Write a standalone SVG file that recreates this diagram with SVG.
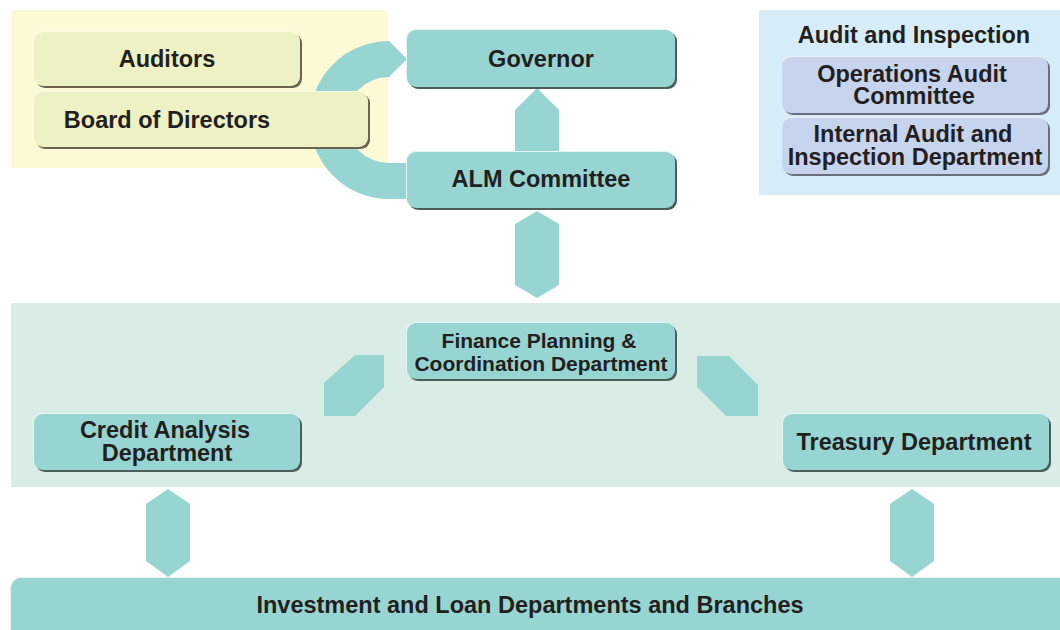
<svg xmlns="http://www.w3.org/2000/svg" width="1060" height="630" viewBox="0 0 1060 630">
<style>
.lbl{font-family:"Liberation Sans",Arial,sans-serif;font-weight:bold;font-size:23.5px;fill:#231f20;text-anchor:middle}
.sm{font-size:21px}
.conn{fill:#97d5d2}
.teal{fill:#97d5d2}
.yel{fill:#eef1c3}
.blu{fill:#c6d4ee}
.hl{fill:#e6f4f2}
.hly{fill:#fbfbe6}
.hlb{fill:#e8eef8}
.sh{fill:#4d5e59}
.shy{fill:#6a6450}
.shb{fill:#68707e}
</style>
<rect width="1060" height="630" fill="#ffffff"/>
<g id="panels">
<rect x="11" y="10" width="377" height="158" fill="#fefad6"/>
<rect x="759" y="10" width="301" height="185" fill="#d6edf9"/>
<rect x="11" y="303" width="1049" height="184" fill="#d9ede6"/>
</g>
<g id="connectors">
<path class="conn" d="M389 41 L407 59 L389 77 A43 43 0 0 0 389 163 L420 163 L420 199 L389 199 A79 79 0 0 1 389 41 Z"/>
<polygon class="conn" points="515,152 515,110 537,88 559,110 559,152"/>
<polygon class="conn" points="537,211 559,224 559,285 537,298 515,285 515,224"/>
<polygon class="conn" points="324,383 355,355 384,355 384,387 355,416 324,416"/>
<polygon class="conn" points="697,356 729,356 758,385 758,416 726,416 697,387"/>
<polygon class="conn" points="168,489 190,504 190,561 168,577 146,561 146,504"/>
<polygon class="conn" points="912,489 934,504 934,561 912,577 890,561 890,504"/>
</g>
<g id="auditors">
<rect class="hly" x="33" y="31" width="266" height="54" rx="9"/>
<rect class="shy" x="36" y="34" width="266" height="54" rx="9"/>
<rect class="yel" x="34" y="32" width="266" height="54" rx="9"/>
<text class="lbl" x="167" y="67">Auditors</text>
</g>
<g id="board">
<rect class="hly" x="33" y="91" width="334" height="55" rx="9"/>
<rect class="shy" x="36" y="94" width="334" height="55" rx="9"/>
<rect class="yel" x="34" y="92" width="334" height="55" rx="9"/>
<text class="lbl" x="167" y="128">Board of Directors</text>
</g>
<g id="governor">
<rect class="hl" x="406" y="29" width="268" height="57" rx="9"/>
<rect class="sh" x="409" y="32" width="268" height="57" rx="9"/>
<rect class="teal" x="407" y="30" width="268" height="57" rx="9"/>
<text class="lbl" x="541" y="67">Governor</text>
</g>
<g id="alm">
<rect class="hl" x="406" y="151" width="268" height="56" rx="9"/>
<rect class="sh" x="409" y="154" width="268" height="56" rx="9"/>
<rect class="teal" x="407" y="152" width="268" height="56" rx="9"/>
<text class="lbl" x="541" y="187">ALM Committee</text>
</g>
<g id="audit-inspection">
<text class="lbl" x="914" y="43">Audit and Inspection</text>
</g>
<g id="ops-audit">
<rect class="hlb" x="781" y="56" width="266" height="56" rx="9"/>
<rect class="shb" x="784" y="59" width="266" height="56" rx="9"/>
<rect class="blu" x="782" y="57" width="266" height="56" rx="9"/>
<text class="lbl" x="912" y="82">Operations Audit</text>
<text class="lbl" x="914" y="104">Committee</text>
</g>
<g id="internal-audit">
<rect class="hlb" x="781" y="117" width="266" height="56" rx="9"/>
<rect class="shb" x="784" y="120" width="266" height="56" rx="9"/>
<rect class="blu" x="782" y="118" width="266" height="56" rx="9"/>
<text class="lbl" x="913" y="142">Internal Audit and</text>
<text class="lbl" x="915" y="165">Inspection Department</text>
</g>
<g id="finance">
<rect class="hl" x="406" y="322" width="268" height="56" rx="9"/>
<rect class="sh" x="409" y="325" width="268" height="56" rx="9"/>
<rect class="teal" x="407" y="323" width="268" height="56" rx="9"/>
<text class="lbl sm" x="539" y="348">Finance Planning &amp;</text>
<text class="lbl sm" x="541" y="371">Coordination Department</text>
</g>
<g id="credit">
<rect class="hl" x="33" y="413" width="266" height="56" rx="9"/>
<rect class="sh" x="36" y="416" width="266" height="56" rx="9"/>
<rect class="teal" x="34" y="414" width="266" height="56" rx="9"/>
<text class="lbl" x="165" y="438">Credit Analysis</text>
<text class="lbl" x="167" y="461">Department</text>
</g>
<g id="treasury">
<rect class="hl" x="782" y="413" width="266" height="56" rx="9"/>
<rect class="sh" x="785" y="416" width="266" height="56" rx="9"/>
<rect class="teal" x="783" y="414" width="266" height="56" rx="9"/>
<text class="lbl" x="914" y="450">Treasury Department</text>
</g>
<g id="investment">
<rect class="hl" x="10" y="577" width="1080" height="70" rx="10"/>
<rect class="teal" x="11" y="578" width="1080" height="70" rx="10"/>
<text class="lbl" x="530" y="613">Investment and Loan Departments and Branches</text>
</g>
</svg>
